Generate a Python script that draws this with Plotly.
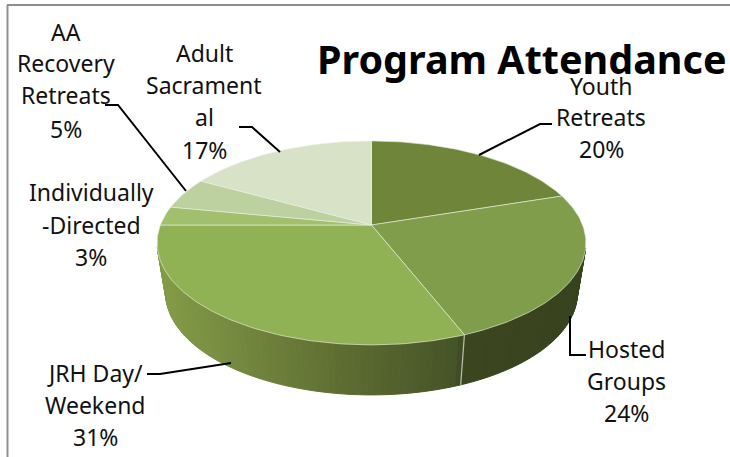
import numpy as np
import plotly.graph_objects as go

# --- data ---
categories = ["Youth Retreats", "Hosted Groups", "JRH Day/ Weekend",
              "Individually -Directed", "AA Recovery Retreats", "Adult Sacramental"]
percent_values = [20, 24, 31, 3, 5, 17]
title_text = "Program Attendance"

# --- styling and layout (pixels of the 730x457 page) ---
slice_colors = ["#6f863a", "#7f9d4a", "#90b254", "#a2bf6e", "#bcd0a0", "#d7e2c6"]
label_lines = [["Youth", "Retreats", "20%"], ["Hosted", "Groups", "24%"],
               ["JRH Day/", "Weekend", "31%"], ["Individually", "-Directed", "3%"],
               ["AA", "Recovery", "Retreats", "5%"], ["Adult", "Sacrament", "al", "17%"]]
label_x = [601, 626, 95, 91, 66, 204]
label_y = [[86, 117, 149], [349, 381, 413], [373, 405, 437], [192, 225, 257],
           [32, 63, 95, 129], [53, 85, 117, 150]]
leaders = [[(479, 155), (540, 124), (552, 124)], [(570, 316), (570, 355), (586, 355)],
           [(147, 374), (160, 374), (231, 363)], [(105, 105), (118, 105), (186, 191)],
           [(239, 127), (252, 127), (280, 152)]]
FONT = "Noto Sans"
CX, CY = 371.5, 225.0
A, K, B = 98.8, 0.176, 211.1
DEPTH, BOTTOM_SCALE = 50.0, 0.96
WALL_STOPS = [(157, (132, 156, 72)), (230, (118, 138, 64)), (340, (94, 110, 50)),
              (458, (70, 84, 40)), (464, (60, 71, 33)), (587, (55, 66, 30))]


def rim(deg):
    t = np.radians(deg)
    u, v = np.sin(t), np.cos(t)
    w = 1 / (1 + K * v)
    return CX + B * u * w, CY - A * v * w


def bottom(deg):
    x, y = rim(deg)
    return CX + (x - CX) * BOTTOM_SCALE, y + DEPTH


fig = go.Figure()

# side wall of the disc, drawn as narrow shaded strips
edges = np.arange(103, 258, 1.5)
for a0, a1 in zip(edges[:-1], edges[1:]):
    ts = np.array([a0, a1])
    rx, ry = rim(ts)
    bx, by = bottom(ts)
    mid = rim((a0 + a1) / 2)[0]
    xs_stop = [s[0] for s in WALL_STOPS]
    rgb = [int(np.interp(mid, xs_stop, [s[1][i] for s in WALL_STOPS])) for i in range(3)]
    col = f"rgb({rgb[0]},{rgb[1]},{rgb[2]})"
    fig.add_trace(go.Scatter(x=[rx[0], rx[1], bx[1], bx[0], rx[0]],
                             y=[ry[0], ry[1], by[1], by[0], ry[0]],
                             mode="lines", fill="toself", fillcolor=col,
                             line=dict(color=col, width=1), hoverinfo="skip"))

# top face: one wedge for each value
total = sum(percent_values)
cum = 0.0
seam = None
for name, val, col in zip(categories, percent_values, slice_colors):
    d0, d1 = 360 * cum / total, 360 * (cum + val) / total
    ts = np.linspace(d0, d1, max(int(d1 - d0), 2) + 1)
    rx, ry = rim(ts)
    fig.add_trace(go.Scatter(x=np.r_[CX, rx, CX], y=np.r_[CY, ry, CY], mode="lines",
                             fill="toself", fillcolor=col, name=name,
                             line=dict(color="rgba(235,240,225,0.6)", width=1),
                             hoverinfo="name"))
    cum += val
    if name == "Hosted Groups":
        seam = d1

# pale seam on the wall between the two front slices
sx, sy = rim(seam)
bx, by = bottom(seam)
fig.add_trace(go.Scatter(x=[sx, bx], y=[sy, by], mode="lines",
                         line=dict(color="rgba(200,205,185,0.9)", width=1.2), hoverinfo="skip"))

for pts in leaders:
    fig.add_trace(go.Scatter(x=[p[0] for p in pts], y=[p[1] for p in pts], mode="lines",
                             line=dict(color="black", width=2), hoverinfo="skip"))

ann = []
for lines, x, ys in zip(label_lines, label_x, label_y):
    for line, y in zip(lines, ys):
        ann.append(dict(x=x, y=y, text=line, showarrow=False, xanchor="center", yanchor="middle",
                        font=dict(family=FONT, size=23, color="#111111")))
ann.append(dict(x=522, y=59, text=f"<b>{title_text}</b>", showarrow=False, xanchor="center",
                yanchor="middle", font=dict(family=FONT, size=39.5, color="black")))

frame = [dict(type="line", x0=7, x1=730, y0=5, y1=5, line=dict(color="#8f8f8f", width=2)),
         dict(type="line", x0=7.5, x1=7.5, y0=5, y1=457, line=dict(color="#8f8f8f", width=2))]

fig.update_layout(width=730, height=457, margin=dict(l=0, r=0, t=0, b=0),
                  paper_bgcolor="white", plot_bgcolor="white", showlegend=False,
                  annotations=ann, shapes=frame,
                  xaxis=dict(range=[0, 730], visible=False, fixedrange=True),
                  yaxis=dict(range=[457, 0], visible=False, fixedrange=True))
fig.write_html("out.html", config={"displayModeBar": False},
               post_script="document.body.style.margin='0';document.body.style.overflow='hidden';")
